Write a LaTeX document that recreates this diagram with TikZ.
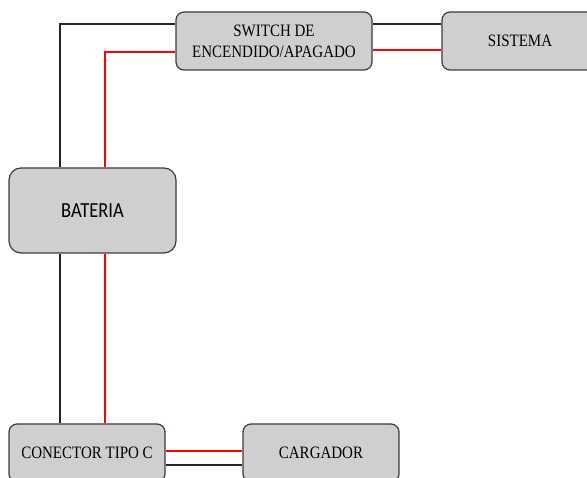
\documentclass[tikz,border=0pt]{standalone}
\usepackage{fontspec}
\setmainfont{Liberation Serif}
\newfontfamily\calfont{Carlito}
\usepackage{graphicx}
% slightly tall lettering used throughout the block labels
\newcommand{\tallt}[1]{\scalebox{1}[1.16]{#1}}
\definecolor{boxfill}{RGB}{208,206,209}
\definecolor{boxline}{RGB}{60,60,60}
\definecolor{wirered}{RGB}{255,0,0}
\begin{document}
\begin{tikzpicture}[x=1pt,y=-1pt,
  block/.style={draw=boxline,line width=1.2pt,fill=boxfill,rounded corners=8pt,
    inner sep=0pt,font=\fontsize{15}{21}\selectfont,align=center},
  wireneg/.style={line width=1.8pt,black!85},
  wirepos/.style={line width=1.8pt,wirered}]
\clip (0,0) rectangle (587,478);
\fill[white] (0,0) rectangle (587,478);

% blocks
\node[block,minimum width=196pt,minimum height=58pt] (sw) at (274,41)
  {\tallt{SWITCH DE}\\\tallt{ENCENDIDO/APAGADO}};
\node[block,minimum width=156pt,minimum height=58pt] (sis) at (520,41)
  {\tallt{SISTEMA}};
\node[block,minimum width=167pt,minimum height=85pt,rounded corners=12pt,
  font=\calfont\fontsize{18.5}{22}\selectfont] (bat) at (92.5,210.5)
  {\tallt{BATERIA}};
\node[block,minimum width=156pt,minimum height=58pt] (con) at (87,453)
  {\tallt{CONECTOR TIPO C}};
\node[block,minimum width=156pt,minimum height=58pt] (car) at (321,453)
  {\tallt{CARGADOR}};

% battery to switch
\draw[wireneg] ([yshift=17pt]sw.west) -| ([xshift=-32.5pt]bat.north);
\draw[wirepos] ([yshift=-11pt]sw.west) -| ([xshift=12.5pt]bat.north);

% switch to system
\draw[wireneg] ([yshift=17pt]sw.east) -- ([yshift=17pt]sis.west);
\draw[wirepos] ([yshift=-9pt]sw.east) -- ([yshift=-9pt]sis.west);

% battery to USB-C connector
\draw[wireneg] ([xshift=-32.5pt]bat.south) -- ([xshift=-32.5pt]bat.south |- con.north);
\draw[wirepos] ([xshift=12.5pt]bat.south) -- ([xshift=12.5pt]bat.south |- con.north);

% connector to charger
\draw[wirepos] ([yshift=2pt]con.east) -- ([yshift=2pt]car.west);
\draw[wireneg] ([yshift=-12pt]con.east) -- ([yshift=-12pt]car.west);
\end{tikzpicture}
\end{document}
